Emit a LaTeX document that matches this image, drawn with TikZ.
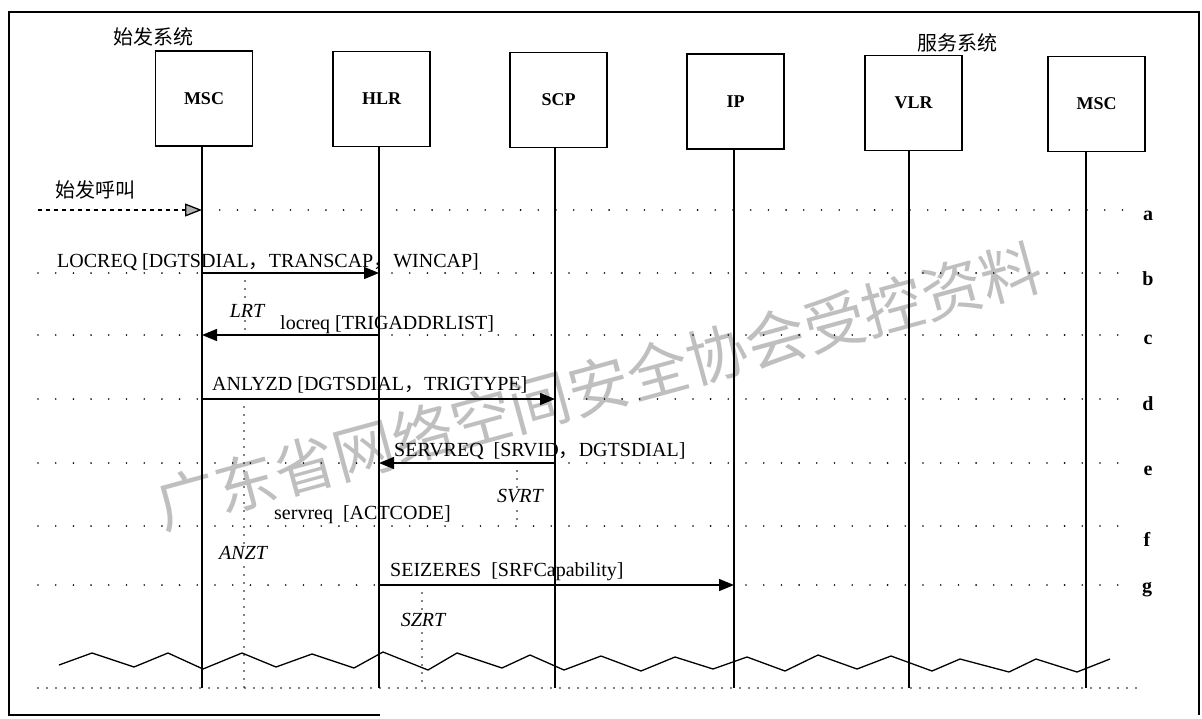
\documentclass[tikz,border=0pt]{standalone}
\usepackage{fontspec}
\setmainfont{Liberation Serif}
\newfontfamily\cjk{Noto Sans CJK SC}
\usetikzlibrary{arrows.meta}
\begin{document}
\begin{tikzpicture}[x=1pt,y=-1pt,
  box/.style={draw, line width=1.3pt, minimum width=97pt, minimum height=95pt, inner sep=0pt, font=\fontsize{18}{22}\selectfont\bfseries},
  life/.style={line width=1.3pt},
  row/.style={line width=1.8pt, dash pattern=on 0pt off 17.7pt, line cap=round},
  dense/.style={line width=1.6pt, dash pattern=on 0pt off 9pt, line cap=round},
  vdot/.style={line width=1.6pt, dash pattern=on 0pt off 8pt, line cap=round},
  dashy/.style={line width=1.3pt, dash pattern=on 4pt off 4pt},
  msg/.style={line width=1.4pt, -{Triangle[length=15pt,width=12pt]}},
  lab/.style={font=\fontsize{20}{22}\selectfont, inner sep=0pt, anchor=base west},
  itl/.style={font=\fontsize{20}{22}\selectfont\itshape, inner sep=1pt, fill=white},
  cjklab/.style={font=\cjk\fontsize{20}{22}\selectfont, inner sep=0pt},
  letter/.style={font=\fontsize{20}{22}\selectfont\bfseries, inner sep=0pt, anchor=base},
  zig/.style={line width=1.3pt, line join=miter},
  frame/.style={line width=2pt}
]
\useasboundingbox (0,0) rectangle (1202,718);
% watermark
\node[text=gray!50, rotate=15.3, font=\cjk\fontsize{61}{61}\selectfont, inner sep=0pt] (wm) at (599,386) {广东省网络空间安全协会受控资料};
% frame
\draw[frame] (380,715) -- (9,715) -- (9,12) -- (1199,12) -- (1199,715);
% titles
\node[cjklab] (orig) at (153,37) {始发系统};
\node[cjklab] (serv) at (957,43) {服务系统};
% boxes
\node[box] (msc1) at (204,98.5) {MSC};
\node[box] (hlr) at (381.5,99) {HLR};
\node[box] (scp) at (558.5,100) {SCP};
\node[box] (ip) at (735.5,101.5) {IP};
\node[box] (vlr) at (913.5,103) {VLR};
\node[box] (msc2) at (1096.5,104) {MSC};
% lifeline ends
\coordinate (l1) at (202,688);
\coordinate (l2) at (379,688);
\coordinate (l3) at (555,688);
\coordinate (l4) at (734,688);
\coordinate (l5) at (909,688);
\coordinate (l6) at (1086,688);
% rows
\coordinate (ra) at (0,210);
\coordinate (rb) at (0,273);
\coordinate (rc) at (0,335);
\coordinate (rd) at (0,399);
\coordinate (re) at (0,463);
\coordinate (rf) at (0,526);
\coordinate (rg) at (0,585);
\coordinate (astart) at (38,210);
\coordinate (aend) at (1130,210);
\foreach \y in {273,335,399,463,526,585} {\draw[row] (38,\y) -- (1130,\y);}
\draw[row] (l1 |- ra) -- (aend);
\draw[dense] (38,688) -- (1140,688);
% lifelines
\draw[life] (msc1.south -| l1) -- (l1);
\draw[life] (hlr.south -| l2) -- (l2);
\draw[life] (scp.south -| l3) -- (l3);
\draw[life] (ip.south -| l4) -- (l4);
\draw[life] (vlr.south -| l5) -- (l5);
\draw[life] (msc2.south -| l6) -- (l6);
% zigzag
\draw[zig] (59,665) -- (92,653) -- (134,667) -- (168,653) -- (203,669) -- (242,653) -- (276,667) -- (312,654) -- (354,668) -- (383,652) -- (428,670) -- (457,653) -- (502,668) -- (530,655) -- (564,670) -- (601,656) -- (641,671) -- (675,657) -- (713,669) -- (747,657) -- (785,671) -- (818,655) -- (857,669) -- (891,656) -- (932,671) -- (960,659) -- (1009,672) -- (1036,659) -- (1077,672) -- (1110,659);
% timers
\coordinate (tlrt) at (245,0);
\coordinate (tanz) at (244,0);
\coordinate (tsvr) at (517,0);
\coordinate (tszr) at (422,0);
\draw[vdot] (tlrt |- rb) -- (tlrt |- rc);
\draw[vdot] (tanz |- rd) -- (tanz |- l1);
\draw[vdot] (tsvr |- re) -- (tsvr |- rf);
\draw[vdot] (tszr |- rg) -- (tszr |- l1);
\node[itl] (lrt) at (247,311) {LRT};
\node[itl] (anzt) at (243,553) {ANZT};
\node[itl] (svrt) at (520,496) {SVRT};
\node[itl] (szrt) at (423,620) {SZRT};
% messages
\node[cjklab] (call) at (95,190) {始发呼叫};
\draw[dashy, -{Triangle[length=17pt,width=13pt,fill=gray!60]}] (astart) -- (l1 |- ra);
\draw[msg] (l1 |- rb) -- (l2 |- rb);
\draw[msg] (l2 |- rc) -- (l1 |- rc);
\draw[msg] (l1 |- rd) -- (l3 |- rd);
\draw[msg] (l3 |- re) -- (l2 |- re);
\draw[msg] (l2 |- rg) -- (l4 |- rg);
\node[lab] (mb) at (57,267) {LOCREQ [DGTSDIAL{\cjk ，}TRANSCAP{\cjk ，}WINCAP]};
\node[lab] (mc) at (280,329) {locreq [TRIGADDRLIST]};
\node[lab] (md) at (212,390) {ANLYZD [DGTSDIAL{\cjk ，}TRIGTYPE]};
\node[lab] (me) at (394,456) {SERVREQ\ \ [SRVID{\cjk ，}DGTSDIAL]};
\node[lab] (mf) at (274,519) {servreq\ \ [ACTCODE]};
\node[lab] (mg) at (390,576) {SEIZERES\ \ [SRFCapability]};
% row letters
\node[letter] (la) at (1148,220) {a};
\node[letter] (lb) at (1148,285) {b};
\node[letter] (lc) at (1148,344) {c};
\node[letter] (ld) at (1148,410) {d};
\node[letter] (le) at (1148,475) {e};
\node[letter] (lf) at (1147,546) {f};
\node[letter] (lg) at (1147,592) {g};
\end{tikzpicture}
\end{document}
